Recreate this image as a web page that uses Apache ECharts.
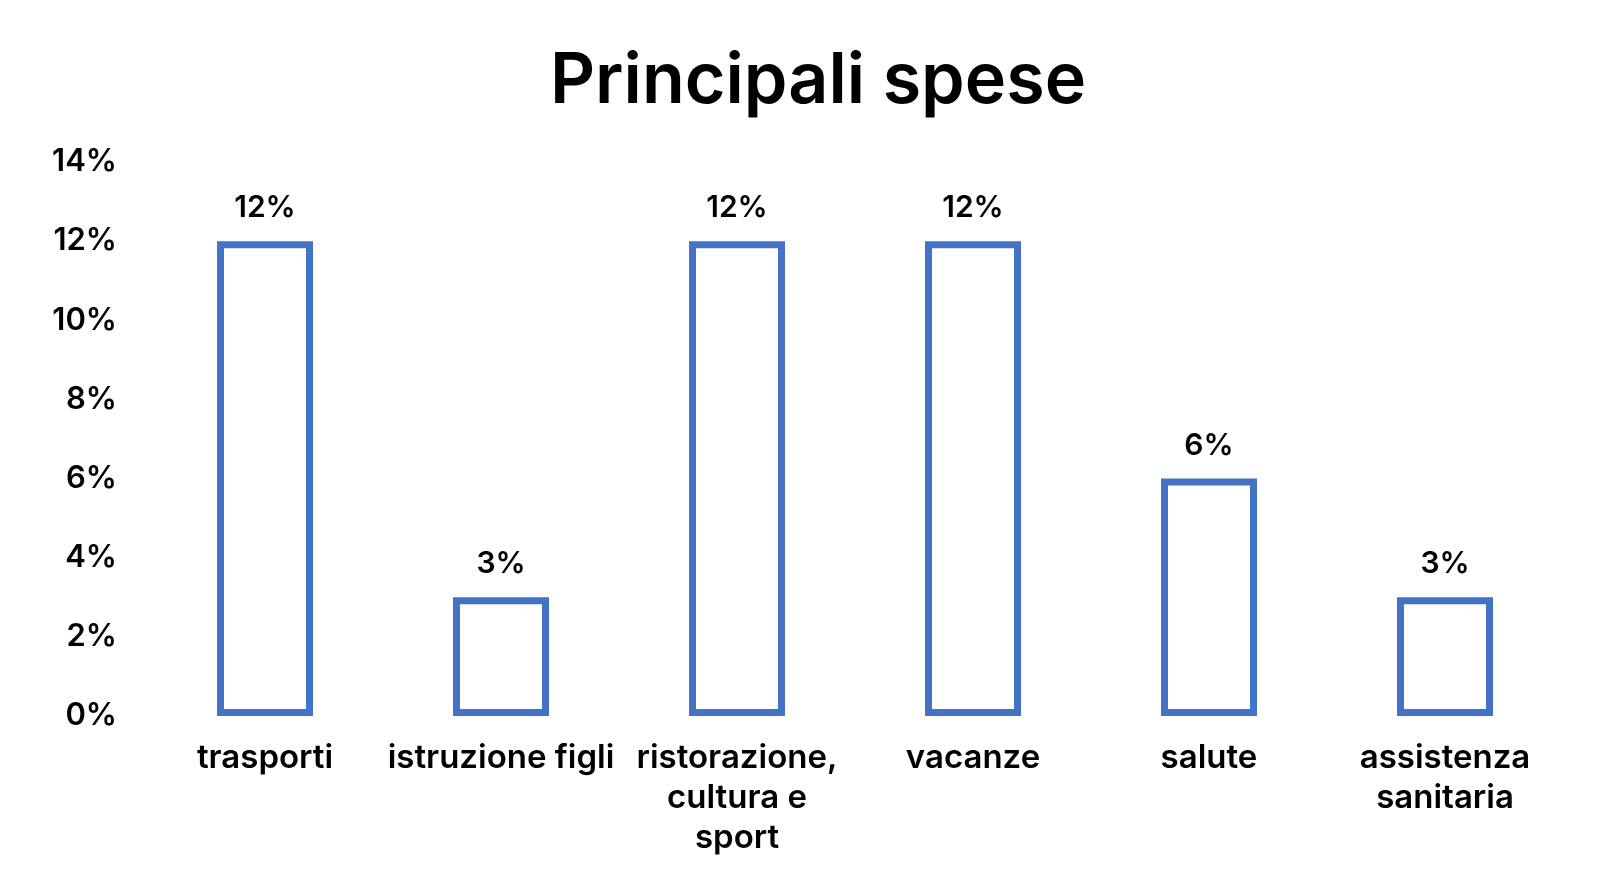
<!DOCTYPE html>
<html>
<head>
<meta charset="utf-8">
<script src="https://cdn.jsdelivr.net/npm/echarts@6/dist/echarts.min.js"></script>
<style>html,body{margin:0;padding:0;background:#fff}#c{width:1600px;height:881px}</style>
</head>
<body>
<div id="c"></div>
<script>
const titleText = 'Principali spese';
const categories = ['trasporti', 'istruzione figli', 'ristorazione,\ncultura e\nsport', 'vacanze', 'salute', 'assistenza\nsanitaria'];
const values = [12, 3, 12, 12, 6, 3];
const yMin = 0, yMax = 14, yStep = 2;

const FONT = 'Inter';
const chart = echarts.init(document.getElementById('c'), null, {renderer: 'canvas'});
chart.setOption({
  backgroundColor: '#ffffff',
  animation: false,
  title: {
    text: titleText,
    left: 813, top: 42, textAlign: 'center',
    textStyle: {fontFamily: FONT, fontSize: 70, fontWeight: 600, color: '#000'}
  },
  grid: {left: 147, right: 37, top: 162, bottom: 165},
  xAxis: {
    type: 'category', data: categories,
    axisLine: {show: false}, axisTick: {show: false},
    axisLabel: {fontFamily: FONT, fontSize: 33, fontWeight: 600, color: '#000', margin: 22, lineHeight: 40, interval: 0}
  },
  yAxis: {
    type: 'value', min: yMin, max: yMax, interval: yStep,
    splitLine: {show: false}, axisLine: {show: false}, axisTick: {show: false},
    axisLabel: {formatter: '{value}%', fontFamily: FONT, fontSize: 31, fontWeight: 600, color: '#000', margin: 30}
  },
  series: [{
    type: 'bar', data: values, barWidth: 96,
    itemStyle: {color: '#ffffff', borderColor: '#4472C4', borderWidth: 7},
    label: {show: true, position: 'top', distance: 18, formatter: '{c}%', fontFamily: FONT, fontSize: 30, fontWeight: 600, color: '#000'}
  }]
});
</script>
</body>
</html>
